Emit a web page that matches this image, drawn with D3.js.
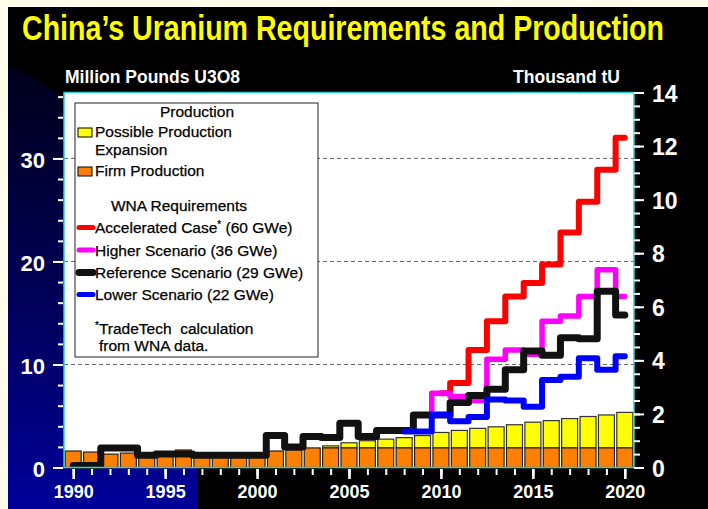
<!DOCTYPE html>
<html>
<head>
<meta charset="utf-8">
<script src="https://cdn.jsdelivr.net/npm/d3@7"></script>
<style>
  body { margin: 0; background: #fffdea; }
  svg { display: block; }
</style>
</head>
<body>
<div id="chart"></div>
<script>
// years on the x axis
const years = d3.range(1990, 2021);

// production bars, million pounds U3O8
const firmProduction = [1.6, 1.5, 1.3, 1.4, 1.1, 1.1, 1.7, 1.0, 1.0, 1.0, 1.0, 1.6, 1.7, 1.9,
    1.9, 1.9, 1.9, 1.9, 1.9, 1.9, 1.9, 1.9, 1.9, 1.9, 1.9, 1.9, 1.9, 1.9, 1.9, 1.9, 1.9];
const possibleExpansion = [0, 0, 0, 0, 0, 0, 0, 0, 0, 0, 0, 0, 0, 0,
    0.2, 0.5, 0.7, 0.85, 1.0, 1.2, 1.5, 1.7, 1.9, 2.05, 2.25, 2.5, 2.65, 2.85, 3.05, 3.2, 3.45];

// WNA requirement scenarios, million pounds U3O8 (first year given separately)
const acceleratedStart = 2010;
const accelerated = [7.2, 8.2, 11.4, 14.2, 16.6, 17.9, 19.7, 22.8, 25.8, 28.9, 32.0];
const higherStart = 2009;
const higher = [5.1, 7.2, 6.9, 6.5, 10.5, 11.4, 11.0, 14.2, 14.7, 16.6, 19.2, 16.6];
const referenceStart = 1990;
const reference = [0.2, 0.2, 1.9, 1.9, 1.2, 1.3, 1.3, 1.2, 1.2, 1.2,
    1.2, 3.1, 2.0, 3.0, 2.9, 4.3, 3.0, 3.6, 3.6, 5.1,
    5.1, 6.3, 7.0, 7.6, 9.5, 11.3, 10.9, 12.6, 12.5, 17.1, 14.8];
const lowerStart = 2008;
const lower = [3.5, 3.5, 5.1, 4.5, 4.9, 6.6, 6.5, 5.9, 8.5, 8.8, 10.6, 9.5, 10.8];

// axis ticks
const leftTicks = [0, 10, 20, 30];
const rightTicks = [0, 2, 4, 6, 8, 10, 12, 14];
const yearTicks = [1990, 1995, 2000, 2005, 2010, 2015, 2020];
const gridLines = [10, 20, 30];

const W = 708, H = 509;
const plot = {left: 64, right: 634, top: 92.5, bottom: 467.5};
const font = "'Liberation Sans', Arial, sans-serif";

const svg = d3.select("#chart").append("svg")
    .attr("width", W)
    .attr("height", H);

const defs = svg.append("defs");
const grad = defs.append("linearGradient")
    .attr("id", "navy")
    .attr("gradientUnits", "userSpaceOnUse")
    .attr("x1", 0).attr("y1", 60).attr("x2", 0).attr("y2", 509);
grad.append("stop").attr("offset", 0).attr("stop-color", "#00001a");
grad.append("stop").attr("offset", 0.5).attr("stop-color", "#000055");
grad.append("stop").attr("offset", 1).attr("stop-color", "#00009a");

// black slide panel and the navy swoosh in the corner
svg.append("rect").attr("x", 8).attr("y", 7).attr("width", W - 8).attr("height", H - 7).attr("fill", "#000");
svg.append("path")
    .attr("d", "M8,66 C120,105 200,300 198,509 L8,509 Z")
    .attr("fill", "url(#navy)");

// title: narrow look by stretching a smaller font vertically
svg.append("text")
    .attr("transform", "translate(22,40) scale(1,1.18)")
    .attr("textLength", 642)
    .attr("lengthAdjust", "spacingAndGlyphs")
    .style("font-family", font)
    .style("font-weight", "bold")
    .style("font-size", "29px")
    .attr("fill", "#ffff00")
    .text("China’s Uranium Requirements and Production");

svg.append("text")
    .attr("x", 65).attr("y", 83)
    .style("font-family", font).style("font-weight", "bold").style("font-size", "17.5px")
    .attr("fill", "#fff")
    .text("Million Pounds U3O8");
svg.append("text")
    .attr("x", 620).attr("y", 83)
    .attr("text-anchor", "end")
    .style("font-family", font).style("font-weight", "bold").style("font-size", "17.5px")
    .attr("fill", "#fff")
    .text("Thousand tU");

const x = d3.scaleLinear().domain([1989.5, 2020.5]).range([plot.left, plot.right]);
const yL = d3.scaleLinear().domain([0, 36.4]).range([plot.bottom, plot.top]);
const yR = d3.scaleLinear().domain([0, 14]).range([plot.bottom, plot.top]);

// plot area
svg.append("rect")
    .attr("x", plot.left).attr("y", plot.top)
    .attr("width", plot.right - plot.left).attr("height", plot.bottom - plot.top)
    .attr("fill", "#fff");

svg.append("g").selectAll("line")
    .data(gridLines)
    .join("line")
    .attr("x1", plot.left).attr("x2", plot.right)
    .attr("y1", d => yL(d)).attr("y2", d => yL(d))
    .attr("stroke", "#666").attr("stroke-width", 1).attr("stroke-dasharray", "4,3");

// bars
const barData = years.map((yr, i) => ({year: yr, firm: firmProduction[i], extra: possibleExpansion[i]}));
const bw = (x(1991) - x(1990)) * 0.87;

svg.append("g").selectAll("rect")
    .data(barData.filter(d => d.extra > 0))
    .join("rect")
    .attr("x", d => x(d.year) - bw / 2)
    .attr("y", d => yL(d.firm + d.extra))
    .attr("width", bw)
    .attr("height", d => yL(d.firm) - yL(d.firm + d.extra))
    .attr("fill", "#ffff00").attr("stroke", "#333").attr("stroke-width", 1.2);

svg.append("g").selectAll("rect")
    .data(barData)
    .join("rect")
    .attr("x", d => x(d.year) - bw / 2)
    .attr("y", d => yL(d.firm))
    .attr("width", bw)
    .attr("height", d => yL(0) - yL(d.firm))
    .attr("fill", "#ff8000").attr("stroke", "#222").attr("stroke-width", 1.2);

// requirement lines
const series = [
    {start: acceleratedStart, values: accelerated, color: "#ff0000", width: 6},
    {start: higherStart, values: higher, color: "#ff00ff", width: 5.5},
    {start: referenceStart, values: reference, color: "#111", width: 7},
    {start: lowerStart, values: lower, color: "#0000ff", width: 6}
];
const stepLine = d3.line()
    .x(d => x(d[0]))
    .y(d => yL(d[1]))
    .curve(d3.curveStep);

svg.append("g").selectAll("path")
    .data(series)
    .join("path")
    .attr("d", s => stepLine(s.values.map((v, i) => [s.start + i, v])))
    .attr("fill", "none")
    .attr("stroke", s => s.color)
    .attr("stroke-width", s => s.width)
    .attr("stroke-linejoin", "round")
    .attr("stroke-linecap", "round");

svg.append("rect")
    .attr("x", plot.left).attr("y", plot.top)
    .attr("width", plot.right - plot.left).attr("height", plot.bottom - plot.top)
    .attr("fill", "none").attr("stroke", "#2fd0d0").attr("stroke-width", 1.5);

// axes
const styleAxis = function(g, size) {
    g.select(".domain").remove();
    g.selectAll(".tick line").attr("stroke", "#fff").attr("stroke-width", 2);
    g.selectAll(".tick text")
        .attr("fill", "#fff")
        .style("font-family", font)
        .style("font-weight", "bold")
        .style("font-size", size);
};

svg.append("g").attr("transform", `translate(${plot.left - 1},0)`)
    .call(d3.axisLeft(yL).tickValues(d3.range(0, 37, 2)).tickSize(5).tickFormat(""))
    .call(g => styleAxis(g, "12px"));
svg.append("g").attr("transform", `translate(${plot.left - 1},0)`)
    .call(d3.axisLeft(yL).tickValues(leftTicks).tickSize(10).tickPadding(8))
    .call(g => styleAxis(g, "22px"))
    .call(g => g.selectAll(".tick text").attr("dy", "0.4em"));

svg.append("g").attr("transform", `translate(${plot.right},0)`)
    .call(d3.axisRight(yR).tickValues(d3.range(0, 14.01, 0.5)).tickSize(6).tickFormat(""))
    .call(g => styleAxis(g, "12px"));
svg.append("g").attr("transform", `translate(${plot.right},0)`)
    .call(d3.axisRight(yR).tickValues(rightTicks).tickSize(10).tickPadding(8))
    .call(g => styleAxis(g, "23px"))
    .call(g => g.selectAll(".tick text").attr("dy", "0.37em"));

svg.append("g").attr("transform", `translate(0,${plot.bottom + 1.5})`)
    .call(d3.axisBottom(x).tickValues(years).tickSize(6).tickFormat(""))
    .call(g => styleAxis(g, "12px"));
svg.append("g").attr("transform", `translate(0,${plot.bottom + 1.5})`)
    .call(d3.axisBottom(x).tickValues(yearTicks).tickSize(10).tickPadding(6).tickFormat(d3.format("d")))
    .call(g => styleAxis(g, "18px"))
    .call(g => g.selectAll(".tick line").attr("stroke-width", 2.6));

// legend
const legend = svg.append("g")
    .style("font-family", font).style("font-size", "15.5px")
    .attr("stroke", "#000").attr("stroke-width", 0.25);
legend.append("rect")
    .attr("x", 75).attr("y", 103).attr("width", 243).attr("height", 254)
    .attr("fill", "#fff").attr("stroke", "#222").attr("stroke-width", 1);

legend.append("text").attr("x", 197).attr("y", 117).attr("text-anchor", "middle").text("Production");

const boxItems = [
    {y: 128, color: "#ffff00", lines: ["Possible Production", "Expansion"]},
    {y: 167, color: "#ff8000", lines: ["Firm Production"]}
];
boxItems.forEach(b => {
    legend.append("rect").attr("x", 78).attr("y", b.y).attr("width", 14).attr("height", 9)
        .attr("fill", b.color).attr("stroke", "#000").attr("stroke-width", 1);
    b.lines.forEach((t, i) => legend.append("text").attr("x", 95).attr("y", b.y + 9 + i * 17.5).text(t));
});

legend.append("text").attr("x", 179).attr("y", 211).attr("text-anchor", "middle").text("WNA Requirements");

const lineItems = [
    {y: 227.5, color: "#ff0000", width: 5, label: ["Accelerated Case", "*", " (60 GWe)"]},
    {y: 250, color: "#ff00ff", width: 5, label: ["Higher Scenario (36 GWe)"]},
    {y: 272.5, color: "#111", width: 7, label: ["Reference Scenario (29 GWe)"]},
    {y: 294.5, color: "#0000ff", width: 5, label: ["Lower Scenario (22 GWe)"]}
];
lineItems.forEach(l => {
    legend.append("line").attr("x1", 79).attr("x2", 93).attr("y1", l.y).attr("y2", l.y)
        .attr("stroke", l.color).attr("stroke-width", l.width).attr("stroke-linecap", "round");
    const t = legend.append("text").attr("x", 95).attr("y", l.y + 5.5);
    t.append("tspan").text(l.label[0]);
    if (l.label.length > 1) {
        t.append("tspan").attr("dy", -5).style("font-size", "10px").text(l.label[1]);
        t.append("tspan").attr("dy", 5).text(l.label[2]);
    }
});

const note = legend.append("text").attr("x", 95).attr("y", 333.5);
note.append("tspan").attr("dy", -5).style("font-size", "10px").text("*");
note.append("tspan").attr("dy", 5).text("TradeTech\u00a0 calculation");
legend.append("text").attr("x", 99).attr("y", 351).text("from WNA data.");
</script>
</body>
</html>
